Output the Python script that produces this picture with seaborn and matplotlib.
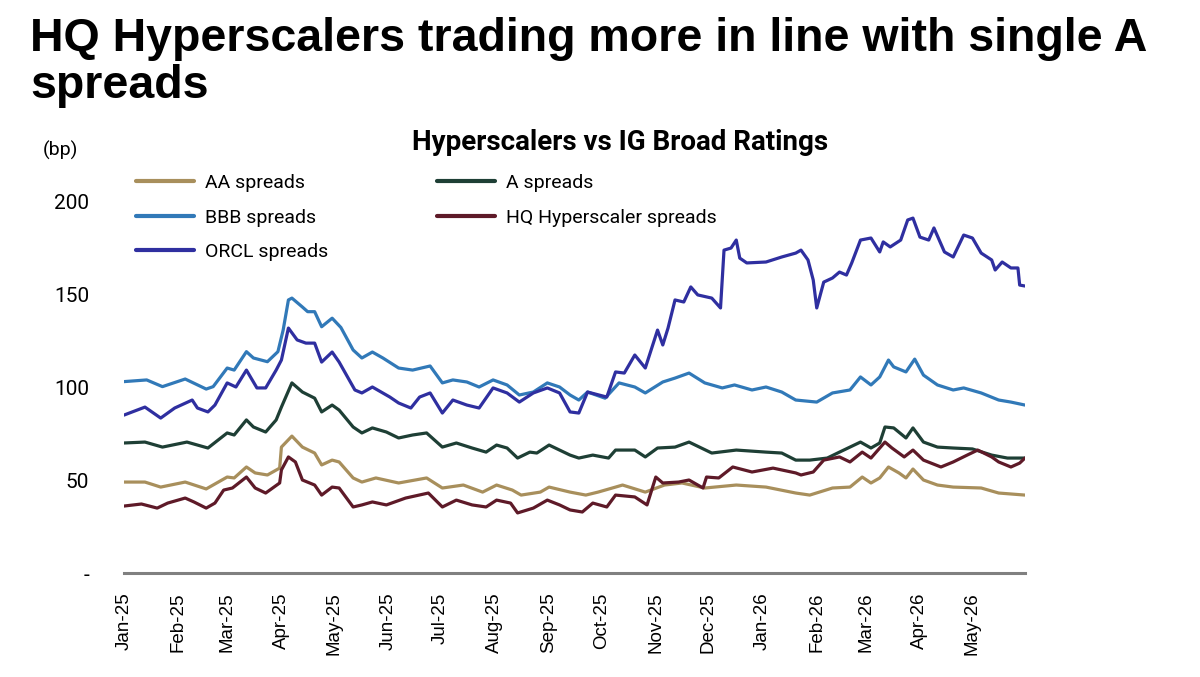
import pandas as pd
import matplotlib
matplotlib.use('Agg')
import matplotlib.pyplot as plt
import seaborn as sns

# readings taken off the chart (bp)
aa_dates = ['2025-01-01','2025-01-13','2025-01-22','2025-02-05','2025-02-17','2025-03-01','2025-03-05',
            '2025-03-12','2025-03-17','2025-03-24','2025-03-31','2025-04-01','2025-04-07','2025-04-13',
            '2025-04-20','2025-04-24','2025-04-30','2025-05-04','2025-05-12','2025-05-17','2025-05-25',
            '2025-06-07','2025-06-23','2025-07-02','2025-07-14','2025-07-25','2025-08-02','2025-08-11',
            '2025-08-16','2025-08-27','2025-09-01','2025-09-13','2025-09-22','2025-09-29','2025-10-09',
            '2025-10-13','2025-10-26','2025-11-06','2025-11-16','2025-11-29','2025-12-17','2026-01-03',
            '2026-01-20','2026-01-28','2026-02-10','2026-02-20','2026-02-27','2026-03-04','2026-03-09',
            '2026-03-14','2026-03-20','2026-03-24','2026-03-28','2026-04-03','2026-04-11','2026-04-20',
            '2026-05-06','2026-05-16','2026-05-31']
aa_vals = [48.9,48.9,46.2,48.9,45.2,51.6,51.1,57.0,53.8,52.7,56.4,67.7,73.6,67.7,64.5,58.1,60.7,59.7,
           51.1,48.9,51.1,48.4,51.1,45.7,47.3,43.5,47.3,44.6,41.9,43.5,46.2,43.5,41.9,43.5,46.2,47.3,
           43.5,47.3,48.4,45.7,47.3,46.2,43.0,41.9,45.7,46.2,51.6,48.4,51.1,57.0,53.8,51.1,55.9,50.0,
           47.3,46.2,45.7,43.0,41.9]

a_dates = ['2025-01-01','2025-01-13','2025-01-23','2025-02-06','2025-02-18','2025-03-01','2025-03-05',
           '2025-03-12','2025-03-16','2025-03-23','2025-03-29','2025-04-01','2025-04-07','2025-04-13',
           '2025-04-20','2025-04-24','2025-04-30','2025-05-04','2025-05-12','2025-05-17','2025-05-23',
           '2025-05-31','2025-06-07','2025-06-15','2025-06-23','2025-07-02','2025-07-10','2025-07-19',
           '2025-07-27','2025-08-02','2025-08-08','2025-08-14','2025-08-21','2025-08-25','2025-09-01',
           '2025-09-13','2025-09-18','2025-09-26','2025-10-05','2025-10-09','2025-10-20','2025-10-26',
           '2025-11-02','2025-11-12','2025-11-20','2025-12-03','2025-12-17','2026-01-03','2026-01-12',
           '2026-01-20','2026-01-28','2026-02-07','2026-02-14','2026-02-26','2026-03-04','2026-03-09',
           '2026-03-12','2026-03-17','2026-03-24','2026-03-28','2026-04-03','2026-04-11','2026-04-20',
           '2026-05-01','2026-05-12','2026-05-21','2026-05-31']
a_vals = [69.9,70.4,67.7,70.4,67.2,75.3,74.2,82.3,78.5,75.8,82.3,89.2,102.2,97.3,94.0,86.6,90.3,87.6,
          78.5,75.3,78.0,75.8,72.6,74.2,75.3,67.7,69.9,67.2,65.0,68.8,67.2,61.8,65.0,64.5,68.8,63.4,
          61.8,63.4,61.8,66.1,66.1,62.4,67.2,67.7,70.4,64.5,66.1,65.0,64.5,60.7,60.7,61.8,65.0,70.4,
          67.2,69.9,78.5,78.0,72.6,78.0,70.4,67.7,67.2,66.7,63.4,61.8,61.8]

bbb_dates = ['2025-01-01','2025-01-14','2025-01-23','2025-02-05','2025-02-17','2025-02-21','2025-03-01',
             '2025-03-05','2025-03-12','2025-03-16','2025-03-24','2025-03-30','2025-04-02','2025-04-05',
             '2025-04-07','2025-04-13','2025-04-16','2025-04-20','2025-04-24','2025-04-30','2025-05-05',
             '2025-05-12','2025-05-17','2025-05-23','2025-05-29','2025-06-07','2025-06-15','2025-06-25',
             '2025-07-02','2025-07-08','2025-07-16','2025-07-23','2025-07-31','2025-08-08','2025-08-15',
             '2025-08-23','2025-08-31','2025-09-07','2025-09-13','2025-09-18','2025-09-23','2025-10-03',
             '2025-10-11','2025-10-20','2025-10-26','2025-11-05','2025-11-12','2025-11-20','2025-11-29',
             '2025-12-09','2025-12-16','2025-12-26','2026-01-03','2026-01-12','2026-01-20','2026-02-01',
             '2026-02-10','2026-02-20','2026-02-26','2026-03-04','2026-03-09','2026-03-14','2026-03-17',
             '2026-03-24','2026-03-29','2026-04-03','2026-04-11','2026-04-20','2026-04-26','2026-05-06',
             '2026-05-16','2026-05-23','2026-05-31']
bbb_vals = [102.9,103.8,100.2,104.3,98.9,100.2,110.2,109.1,119.0,115.6,113.6,119.0,130.6,146.8,147.8,
            143.0,140.5,140.5,132.4,137.0,132.0,119.9,115.6,118.8,115.6,110.2,109.1,111.3,102.2,103.8,
            102.7,100.0,103.8,101.1,95.7,97.3,102.2,100.0,95.7,93.0,97.3,94.0,102.2,100.0,96.8,102.7,
            104.8,107.5,102.2,99.5,101.1,98.4,100.0,97.3,93.0,91.9,96.8,98.4,105.4,101.1,105.4,114.5,
            110.8,108.1,115.0,106.4,101.1,98.4,99.5,96.8,93.0,91.9,90.3]

hq_dates = ['2025-01-01','2025-01-11','2025-01-20','2025-01-26','2025-02-05','2025-02-10','2025-02-17',
            '2025-02-22','2025-02-27','2025-03-04','2025-03-12','2025-03-17','2025-03-23','2025-03-31',
            '2025-04-01','2025-04-05','2025-04-09','2025-04-13','2025-04-20','2025-04-24','2025-04-30',
            '2025-05-04','2025-05-12','2025-05-17','2025-05-23','2025-05-31','2025-06-11','2025-06-24',
            '2025-07-02','2025-07-10','2025-07-19','2025-07-27','2025-08-02','2025-08-10','2025-08-14',
            '2025-08-23','2025-08-31','2025-09-07','2025-09-13','2025-09-20','2025-09-26','2025-10-04',
            '2025-10-09','2025-10-20','2025-10-27','2025-11-01','2025-11-05','2025-11-14','2025-11-20',
            '2025-11-28','2025-11-30','2025-12-07','2025-12-15','2025-12-26','2026-01-07','2026-01-20',
            '2026-01-23','2026-01-30','2026-02-05','2026-02-14','2026-02-20','2026-02-27','2026-03-04',
            '2026-03-12','2026-03-16','2026-03-23','2026-03-28','2026-04-03','2026-04-13','2026-04-20',
            '2026-04-28','2026-05-04','2026-05-12','2026-05-16','2026-05-23','2026-05-28','2026-05-31']
hq_vals = [36.0,37.1,34.9,37.6,40.3,38.2,34.9,37.6,44.6,45.7,51.6,45.7,43.0,48.4,55.4,62.4,59.7,50.0,
           47.3,41.9,46.2,45.7,35.5,36.6,38.2,36.6,40.3,43.0,35.5,39.2,36.6,35.5,39.2,37.6,32.3,34.9,
           39.2,36.6,33.9,32.8,37.6,35.5,41.9,40.9,36.6,51.6,48.4,48.9,50.0,45.7,51.6,51.1,57.0,54.3,
           56.4,53.8,52.7,54.3,60.7,62.4,59.7,65.0,61.8,70.4,67.2,62.4,66.1,60.7,57.0,59.7,63.4,66.1,
           62.4,59.7,57.0,59.1,61.8]

orcl_dates = ['2025-01-01','2025-01-13','2025-01-22','2025-01-30','2025-02-09','2025-02-12','2025-02-18',
              '2025-02-22','2025-03-01','2025-03-06','2025-03-12','2025-03-18','2025-03-23','2025-03-29',
              '2025-04-01','2025-04-05','2025-04-10','2025-04-15','2025-04-20','2025-04-24','2025-04-30',
              '2025-05-04','2025-05-13','2025-05-17','2025-05-23','2025-06-02','2025-06-07','2025-06-14',
              '2025-06-19','2025-06-25','2025-07-02','2025-07-08','2025-07-16','2025-07-23','2025-07-31',
              '2025-08-08','2025-08-15','2025-08-23','2025-08-31','2025-09-07','2025-09-13','2025-09-18',
              '2025-09-23','2025-10-04','2025-10-09','2025-10-14','2025-10-20','2025-10-26','2025-11-02',
              '2025-11-05','2025-11-08','2025-11-12','2025-11-17','2025-11-21','2025-11-25','2025-12-03',
              '2025-12-08','2025-12-10','2025-12-14','2025-12-17','2025-12-19','2025-12-23','2026-01-03',
              '2026-01-12','2026-01-20','2026-01-23','2026-01-27','2026-01-30','2026-02-01','2026-02-05',
              '2026-02-10','2026-02-14','2026-02-18','2026-02-21','2026-02-26','2026-03-04','2026-03-09',
              '2026-03-11','2026-03-15','2026-03-21','2026-03-25','2026-03-28','2026-04-01','2026-04-06',
              '2026-04-09','2026-04-15','2026-04-20','2026-04-26','2026-05-01','2026-05-06','2026-05-12',
              '2026-05-14','2026-05-18','2026-05-23','2026-05-27','2026-05-28','2026-05-31']
orcl_vals = [84.9,89.2,83.3,88.7,93.0,88.7,86.6,90.3,102.2,100.0,109.1,99.5,99.5,109.1,114.5,131.7,
             125.3,123.6,123.6,113.4,118.8,113.4,98.4,96.8,100.0,94.6,91.4,88.7,94.6,96.8,86.0,93.0,
             90.3,88.7,99.5,96.8,91.9,96.8,99.5,96.8,86.6,86.0,97.3,94.6,108.1,107.5,117.2,110.2,130.6,
             122.6,131.7,146.8,145.7,153.8,149.5,147.8,142.5,173.6,174.7,179.0,169.3,166.7,167.2,169.9,
             172.0,173.6,168.3,157.5,142.5,156.4,158.6,161.8,160.2,166.7,179.0,180.1,172.6,178.0,175.3,
             179.0,189.8,190.8,180.6,179.0,185.5,172.6,169.9,181.7,180.1,172.0,168.3,162.9,167.2,164.0,
             164.0,154.8,154.3]

names = ['AA spreads', 'A spreads', 'BBB spreads', 'HQ Hyperscaler spreads', 'ORCL spreads']
colors = ['#A88F5C', '#1E3F35', '#3179B8', '#5E1A28', '#2F2FA0']
months = ['Jan-25','Feb-25','Mar-25','Apr-25','May-25','Jun-25','Jul-25','Aug-25','Sep-25',
          'Oct-25','Nov-25','Dec-25','Jan-26','Feb-26','Mar-26','Apr-26','May-26']
yticks = [0, 50, 100, 150, 200]
ylabels = ['-', '50', '100', '150', '200']

frames = []
for nm, d, v in zip(names, [aa_dates, a_dates, bbb_dates, hq_dates, orcl_dates],
                    [aa_vals, a_vals, bbb_vals, hq_vals, orcl_vals]):
    frames.append(pd.DataFrame({'date': pd.to_datetime(d), 'bp': v, 'series': nm}))
df = pd.concat(frames, ignore_index=True)

sns.set_style('white')
plt.rcParams['font.family'] = ['Roboto', 'DejaVu Sans']
plt.rcParams['text.color'] = 'black'
plt.rcParams['xtick.color'] = 'black'
plt.rcParams['ytick.color'] = 'black'

fig = plt.figure(figsize=(12, 6.77), dpi=100)
ax = fig.add_axes([0.1033, 0.1536, 0.7508, 0.5495])

sns.lineplot(data=df, x='date', y='bp', hue='series', hue_order=names,
             palette=dict(zip(names, colors)), linewidth=2.3, ax=ax, legend=False)

ax.set_xlim(pd.Timestamp('2025-01-01'), pd.Timestamp('2026-05-31'))
ax.set_ylim(0, 200)
ax.set_xticks(pd.date_range('2025-01-01', periods=len(months), freq='MS'))
ax.set_xticklabels(months, rotation=90, fontsize=13.5, family='Liberation Sans')
ax.set_yticks(yticks)
ax.set_yticklabels(ylabels, fontsize=15)
ax.tick_params(axis='y', length=0, pad=25)
ax.tick_params(axis='x', length=0, pad=14)
ax.set_xlabel('')
ax.set_ylabel('')
for s in ['top', 'right', 'left']:
    ax.spines[s].set_visible(False)
ax.spines['bottom'].set_color('#808080')
ax.spines['bottom'].set_linewidth(2.2)

# legend: column-wise fill gives AA/BBB/ORCL then A/HQ
order = [0, 2, 4, 1, 3]
handles = [plt.Line2D([], [], color=colors[i], linewidth=3, solid_capstyle='round') for i in order]
fig.legend(handles, [names[i] for i in order], ncol=2, loc='upper left',
           bbox_to_anchor=(0.105, 0.757), frameon=False,
           handlelength=3.0, handletextpad=0.55, columnspacing=5.6, labelspacing=0.85,
           borderpad=0, prop={'family': 'Roboto', 'size': 14})

fig.text(0.025, 0.975, 'HQ Hyperscalers trading more in line with single A\nspreads',
         fontsize=33.5, fontweight='bold', family='Liberation Sans', va='top', ha='left',
         linespacing=1.1, color='black')
fig.text(0.517, 0.789, 'Hyperscalers vs IG Broad Ratings', fontsize=20, fontweight='bold',
         family='Roboto', ha='center', va='center', color='black')
fig.text(0.05, 0.778, '(bp)', fontsize=14, ha='center', va='center')

fig.savefig('out.png', dpi=100)
